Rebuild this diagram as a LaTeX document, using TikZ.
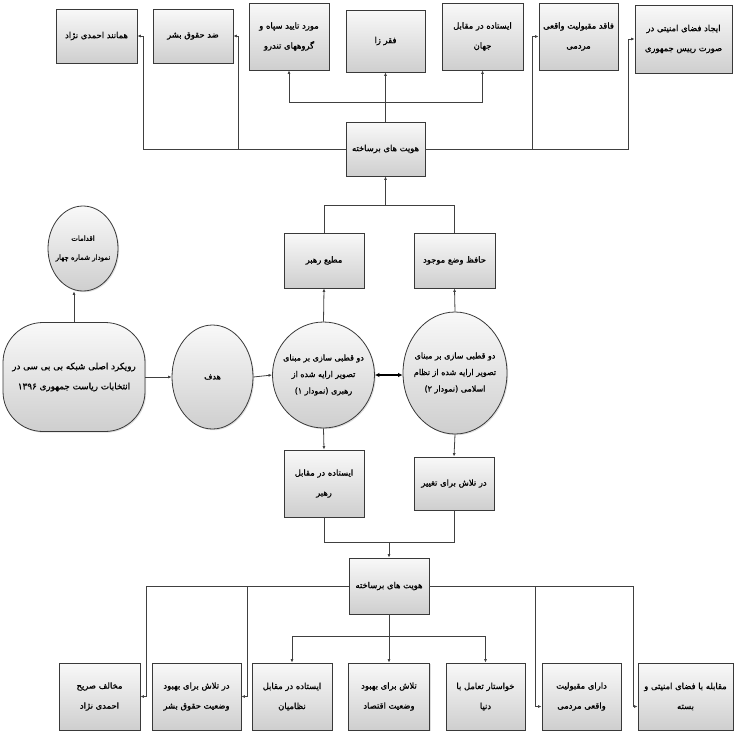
\documentclass[tikz,border=0pt]{standalone}
\usepackage{fontspec}
\usetikzlibrary{arrows.meta,shadows,shapes.geometric}
\newfontfamily\fa[Script=Arabic,FakeBold=1]{DejaVu Sans}
\TeXXeTstate=1
\newcommand\rl[1]{\beginR #1\endR}
\tikzset{
  base/.style={draw=gray!45!black, line width=0.8pt, top color=gray!5, bottom color=gray!38,
    drop shadow={opacity=0.25, shadow xshift=1.2pt, shadow yshift=-1.2pt},
    inner sep=0pt, align=center, text=black},
  box/.style={base, rectangle, font=\fa\fontsize{8.4}{20}\selectfont},
  oval/.style={base, ellipse, inner xsep=-30pt, inner ysep=-15pt, font=\fa\fontsize{8}{16.5}\selectfont},
  pill/.style={base, rectangle, rounded corners=40pt, font=\fa\fontsize{8.8}{20}\selectfont},
  conn/.style={draw=gray!50!black, line width=0.8pt},
  arr/.style={conn, -{Latex[length=3.5pt,width=3pt]}},
  darr/.style={draw=black, line width=1.4pt, {Latex[length=4.5pt,width=4.5pt]}-{Latex[length=4.5pt,width=4.5pt]}},
}
\begin{document}
\begin{tikzpicture}[x=1pt,y=-1pt]
\useasboundingbox (0,0) rectangle (734,732);
% top row
\node[box, minimum width=81, minimum height=54] (A) at (96.5,36) {\rl{همانند احمدی نژاد}};
\node[box, minimum width=80, minimum height=54] (B) at (193,36) {\rl{ضد حقوق بشر}};
\node[box, minimum width=80, minimum height=67] (C) at (289,36.5) {\rl{مورد تایید سپاه و}\\\rl{گروههای تندرو}};
\node[box, minimum width=79, minimum height=62] (D) at (385.5,41) {\rl{فقر زا}};
\node[box, minimum width=81, minimum height=67] (E) at (482.5,36.5) {\rl{ایستاده در مقابل}\\\rl{جهان}};
\node[box, minimum width=79, minimum height=67] (F) at (578.5,36.5) {\rl{فاقد مقبولیت واقعی}\\\rl{مردمی}};
\node[box, minimum width=97, minimum height=68] (G) at (683.5,39) {\rl{ایجاد فضای امنیتی در}\\\rl{صورت رییس جمهوری}};
% hub 1
\node[box, minimum width=79, minimum height=54] (H1) at (385.5,149) {\rl{هویت های برساخته}};
\coordinate (j1) at (385.5,102);
\coordinate (j2) at (385.5,205);
% middle
\node[box, minimum width=80, minimum height=55] (MR) at (324,260.5) {\rl{مطیع رهبر}};
\node[box, minimum width=81, minimum height=55] (HV) at (454.5,260.5) {\rl{حافظ وضع موجود}};
\node[oval, minimum width=70, minimum height=85, font=\fa\fontsize{7}{16}\selectfont] (Q) at (83,248.5) {\rl{اقدامات}\\[3pt]\rl{نمودار شماره چهار}};
\node[pill, minimum width=142, minimum height=109] (P) at (74,377) {\rl{رویکرد اصلی شبکه بی بی سی در}\\\rl{انتخابات ریاست جمهوری ۱۳۹۶}};
\node[oval, minimum width=81, minimum height=104] (HD) at (212.5,377) {\rl{هدف}};
\node[oval, minimum width=102, minimum height=106] (L) at (323.5,375) {\rl{دو قطبی سازی بر مبنای}\\\rl{تصویر ارایه شده از}\\\rl{رهبری (نمودار ۱)}};
\node[oval, minimum width=104, minimum height=122] (R) at (455,373) {\rl{دو قطبی سازی بر مبنای}\\\rl{تصویر ارایه شده از نظام}\\\rl{اسلامی (نمودار ۲)}};
\node[box, minimum width=80, minimum height=67] (IR) at (324,483.5) {\rl{ایستاده در مقابل}\\\rl{رهبر}};
\node[box, minimum width=80, minimum height=53] (TT) at (454,483.5) {\rl{در تلاش برای تغییر}};
\coordinate (j3) at (389,542);
% hub 2
\node[box, minimum width=80, minimum height=56] (H2) at (389,586) {\rl{هویت های برساخته}};
\coordinate (j4) at (389,636);
% bottom row
\node[box, minimum width=81, minimum height=67] (b1) at (99.5,696.5) {\rl{مخالف صریح}\\\rl{احمدی نژاد}};
\node[box, minimum width=89, minimum height=67] (b2) at (196.5,696.5) {\rl{در تلاش برای بهبود}\\\rl{وضعیت حقوق بشر}};
\node[box, minimum width=80, minimum height=67] (b3) at (292,696.5) {\rl{ایستاده در مقابل}\\\rl{نظامیان}};
\node[box, minimum width=81, minimum height=67] (b4) at (389,696.5) {\rl{تلاش برای بهبود}\\\rl{وضعیت اقتصاد}};
\node[box, minimum width=79, minimum height=67] (b5) at (485.5,696.5) {\rl{خواستار تعامل با}\\\rl{دنیا}};
\node[box, minimum width=79, minimum height=67] (b6) at (581.5,696.5) {\rl{دارای مقبولیت}\\\rl{واقعی مردمی}};
\node[box, minimum width=95, minimum height=67] (b7) at (685.5,696.5) {\rl{مقابله با فضای امنیتی و}\\\rl{بسته}};
% connectors top
\draw[arr] (H1.west) -| ([xshift=6pt]A.east) -- (A.east);
\draw[arr] (H1.west) -| ([xshift=5pt]B.east) -- (B.east);
\draw[arr] (H1.east) -| ([xshift=-6pt]F.west) -- (F.west);
\draw[arr] (H1.east) -| ([xshift=-6pt]G.west) -- (G.west);
\draw[arr] (H1.north) -- (D.south);
\draw[arr] (j1) -| (C.south);
\draw[arr] (j1) -| (E.south);
\draw[arr] (j2) -- (H1.south);
\draw[conn] (MR.north) |- (j2);
\draw[conn] (HV.north) |- (j2);
% middle connectors
\draw[arr] (L.north) -- (MR.south);
\draw[arr] (R.north) -- (HV.south);
\draw[arr] (P.north) -- (P.north |- Q.south);
\draw[arr] (P.east) -- (HD.west);
\draw[arr] (HD.east) -- (L.west);
\draw[darr] (L.east) -- (R.west |- L.east);
\draw[arr] (L.south) -- (IR.north);
\draw[arr] (R.south) -- (TT.north);
\draw[conn] (IR.south) |- (j3);
\draw[conn] (TT.south) |- (j3);
\draw[arr] (j3) -- (H2.north);
% bottom connectors
\draw[arr] (H2.west) -| ([xshift=6pt]b1.east) -- (b1.east);
\draw[arr] (H2.west) -| ([xshift=6pt]b2.east) -- (b2.east);
\draw[arr] (H2.east) -| ([xshift=-6pt,yshift=-10pt]b6.west) -- ([yshift=-10pt]b6.west);
\draw[arr] (H2.east) -| ([xshift=-4pt,yshift=-10pt]b7.west) -- ([yshift=-10pt]b7.west);
\draw[arr] (H2.south) -- (b4.north);
\draw[arr] (j4) -| (b3.north);
\draw[arr] (j4) -| (b5.north);
\end{tikzpicture}
\end{document}
